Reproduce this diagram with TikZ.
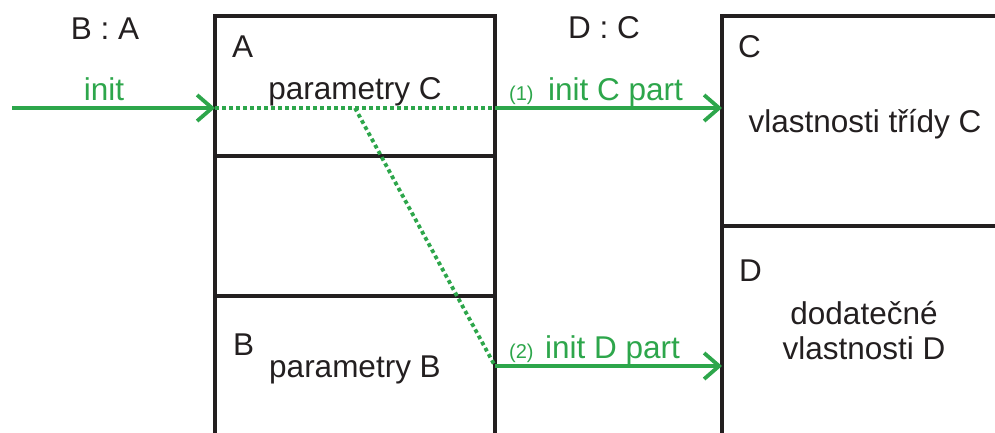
\documentclass[tikz,border=0pt]{standalone}
\usepackage{fontspec}
\setmainfont{Liberation Sans}
\usetikzlibrary{arrows.meta}
\definecolor{ink}{RGB}{35,31,32}
\definecolor{grn}{RGB}{45,166,75}
\begin{document}
\begin{tikzpicture}[x=1pt,y=-1pt,
  frame/.style={draw=ink,line width=3.5pt},
  flow/.style={draw=grn,line width=3.8pt,-{Straight Barb[length=15pt,width=26pt,line width=3.8pt]}},
  dots/.style={draw=grn,line width=3.8pt,dash pattern=on 3.8pt off 3.2pt},
  lbl/.style={text=ink,inner sep=0pt,anchor=base,font=\fontsize{31.5}{36}\selectfont},
  glbl/.style={text=grn,inner sep=0pt,anchor=base,font=\fontsize{31.5}{36}\selectfont},
  num/.style={text=grn,inner sep=0pt,anchor=base,font=\fontsize{20}{24}\selectfont}]
\path[use as bounding box] (0,0) rectangle (995,432);
% left box
\coordinate (ltl) at (215,16); \coordinate (ltr) at (495,16);
\coordinate (lbl) at (215,440); \coordinate (lbr) at (495,440);
\draw[frame] (lbl) -- (ltl) -- (ltr) -- (lbr);
\draw[frame] (215,156) -- (495,156);
\draw[frame] (215,296) -- (495,296);
% right box
\coordinate (rtl) at (722,16); \coordinate (rtr) at (1000,16);
\coordinate (rbl) at (722,440);
\draw[frame] (rbl) -- (rtl) -- (rtr);
\draw[frame] (722,226) -- (1000,226);
% connector points
\coordinate (start) at (12,108);
\coordinate (inA) at (215,108);
\coordinate (branch) at (355,108);
\coordinate (outA) at (495,108);
\coordinate (inC) at (722,108);
\coordinate (outB) at (495,366);
\coordinate (inD) at (722,366);
\draw[dots] (inA) -- (outA);
\draw[dots] (branch) -- (outB);
\draw[flow] (start) -- (inA);
\draw[flow] (outA) -- (inC);
\draw[flow] (outB) -- (inD);
% texts
\node[lbl] (ba) at (105,39) {B : A};
\node[glbl] (init) at (104,100) {init};
\node[lbl,anchor=base west] (a) at (232,57) {A};
\node[lbl] (parC) at (355,99) {parametry C};
\node[lbl] (dc) at (604,38) {D : C};
\node[num,anchor=base west] (n1) at (509,100) {(1)};
\node[glbl,anchor=base west] (initC) at (548,100) {init C part};
\node[lbl,anchor=base west] (c) at (738,57) {C};
\node[lbl] (vlC) at (865,132) {vlastnosti třídy C};
\node[lbl,anchor=base west] (d) at (739,281) {D};
\node[lbl] (dod) at (864,324) {dodatečné};
\node[lbl] (vlD) at (864,359) {vlastnosti D};
\node[lbl,anchor=base west] (b) at (233,355) {B};
\node[lbl] (parB) at (355,377) {parametry B};
\node[num,anchor=base west] (n2) at (509,358) {(2)};
\node[glbl,anchor=base west] (initD) at (545,358) {init D part};
\end{tikzpicture}
\end{document}
